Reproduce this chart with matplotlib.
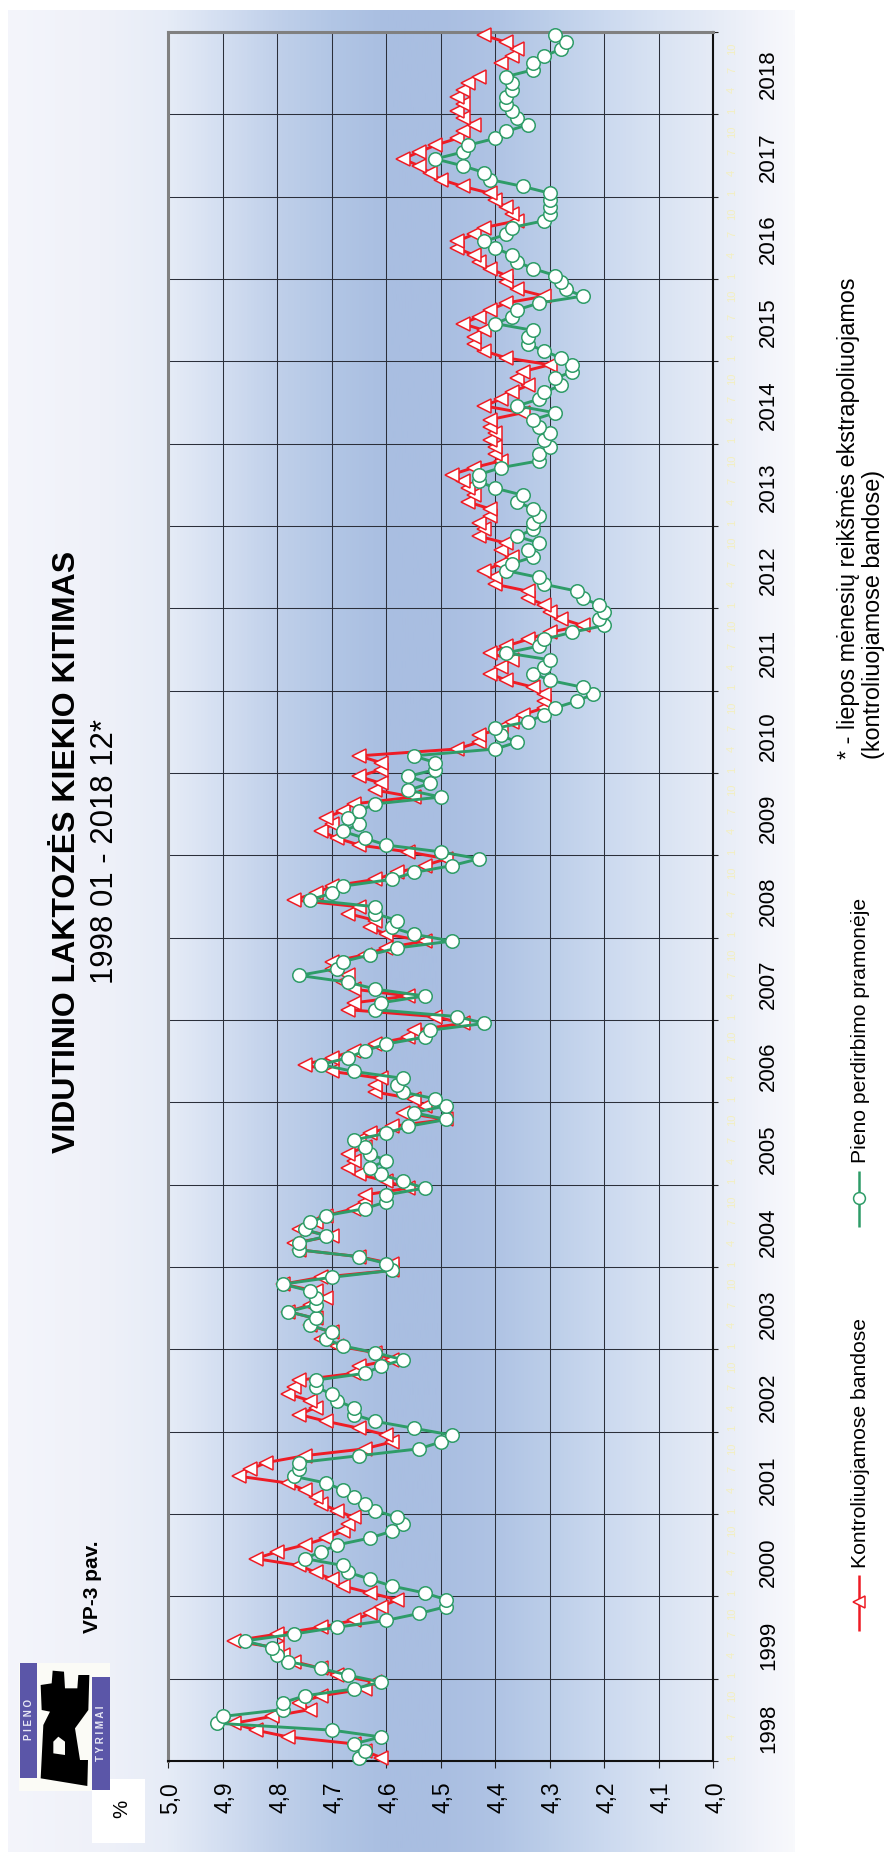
import numpy as np
import matplotlib
matplotlib.use("Agg")
import matplotlib.pyplot as plt
from matplotlib.colors import LinearSegmentedColormap
from matplotlib.lines import Line2D
from matplotlib.markers import MarkerStyle
from matplotlib.patches import Polygon, Rectangle
from matplotlib.transforms import Affine2D, blended_transform_factory

plt.rcParams['font.family'] = ['Liberation Sans', 'DejaVu Sans']

TITLE = "VIDUTINIO LAKTOZĖS KIEKIO KITIMAS"
SUBTITLE = "1998 01 - 2018 12*"
FIGURE_NO = "VP-3 pav."
UNIT = "%"
SERIES_RED = "Kontroliuojamose bandose"
SERIES_GREEN = "Pieno perdirbimo pramonėje"
NOTE_1 = "* - liepos mėnesių reikšmės ekstrapoliuojamos"
NOTE_2 = "(kontroliuojamose bandose)"

years = list(range(1998, 2019))
month_labels = {0: "1", 3: "4", 6: "7", 9: "10"}
value_ticks = [5.0, 4.9, 4.8, 4.7, 4.6, 4.5, 4.4, 4.3, 4.2, 4.1, 4.0]
value_labels = ["5,0", "4,9", "4,8", "4,7", "4,6", "4,5", "4,4", "4,3", "4,2", "4,1", "4,0"]

green = [
    4.65, 4.64, 4.66, 4.61, 4.70, 4.91, 4.90, 4.79, 4.79, 4.75, 4.66, 4.61,
    4.67, 4.72, 4.78, 4.80, 4.81, 4.86, 4.77, 4.69, 4.60, 4.54, 4.49, 4.49,
    4.53, 4.59, 4.63, 4.67, 4.68, 4.75, 4.72, 4.69, 4.63, 4.59, 4.57, 4.58,
    4.62, 4.64, 4.66, 4.68, 4.71, 4.77, 4.76, 4.76, 4.65, 4.54, 4.50, 4.48,
    4.55, 4.62, 4.66, 4.66, 4.69, 4.70, 4.73, 4.73, 4.64, 4.61, 4.57, 4.62,
    4.68, 4.71, 4.70, 4.74, 4.73, 4.78, 4.73, 4.73, 4.74, 4.79, 4.70, 4.59,
    4.60, 4.65, 4.76, 4.76, 4.71, 4.75, 4.74, 4.71, 4.64, 4.60, 4.60, 4.53,
    4.57, 4.61, 4.63, 4.60, 4.63, 4.64, 4.66, 4.60, 4.56, 4.49, 4.55, 4.49,
    4.51, 4.57, 4.58, 4.57, 4.66, 4.72, 4.67, 4.64, 4.60, 4.53, 4.52, 4.42,
    4.47, 4.62, 4.61, 4.53, 4.62, 4.67, 4.76, 4.69, 4.68, 4.63, 4.58, 4.48,
    4.55, 4.59, 4.58, 4.62, 4.62, 4.74, 4.70, 4.68, 4.59, 4.55, 4.48, 4.43,
    4.50, 4.60, 4.64, 4.68, 4.65, 4.67, 4.65, 4.62, 4.50, 4.56, 4.52, 4.56,
    4.51, 4.51, 4.55, 4.40, 4.36, 4.39, 4.40, 4.34, 4.31, 4.29, 4.25, 4.22,
    4.24, 4.30, 4.33, 4.31, 4.30, 4.38, 4.32, 4.31, 4.26, 4.20, 4.21, 4.20,
    4.21, 4.24, 4.25, 4.31, 4.32, 4.38, 4.37, 4.33, 4.34, 4.32, 4.36, 4.33,
    4.33, 4.32, 4.33, 4.36, 4.35, 4.40, 4.43, 4.43, 4.39, 4.32, 4.32, 4.30,
    4.31, 4.30, 4.32, 4.33, 4.29, 4.36, 4.32, 4.31, 4.28, 4.29, 4.26, 4.26,
    4.28, 4.31, 4.34, 4.34, 4.33, 4.40, 4.37, 4.36, 4.32, 4.24, 4.27, 4.28,
    4.29, 4.33, 4.36, 4.37, 4.40, 4.42, 4.38, 4.37, 4.31, 4.30, 4.30, 4.30,
    4.30, 4.35, 4.41, 4.42, 4.46, 4.51, 4.46, 4.45, 4.40, 4.38, 4.34, 4.36,
    4.37, 4.38, 4.38, 4.37, 4.37, 4.38, 4.33, 4.33, 4.31, 4.28, 4.27, 4.29,
]
red = [
    4.61, 4.64, 4.66, 4.78, 4.84, 4.88, 4.81, 4.74, 4.76, 4.72, 4.64, 4.62,
    4.69, 4.72, 4.77, 4.79, 4.80, 4.88, 4.80, 4.72, 4.66, 4.63, 4.61, 4.58,
    4.63, 4.68, 4.70, 4.73, 4.76, 4.84, 4.80, 4.75, 4.71, 4.68, 4.67, 4.66,
    4.69, 4.72, 4.73, 4.75, 4.78, 4.87, 4.85, 4.82, 4.75, 4.64, 4.59, 4.60,
    4.65, 4.71, 4.76, 4.73, 4.74, 4.78, 4.77, 4.76, 4.66, 4.65, 4.59, 4.62,
    4.69, 4.72, 4.70, 4.74, 4.73, 4.78, 4.74, 4.71, 4.73, 4.79, 4.72, 4.59,
    4.59, 4.65, 4.76, 4.77, 4.70, 4.76, 4.73, 4.71, 4.66, 4.64, 4.64, 4.56,
    4.60, 4.65, 4.67, 4.66, 4.67, 4.64, 4.65, 4.63, 4.59, 4.49, 4.57, 4.53,
    4.55, 4.62, 4.62, 4.61, 4.70, 4.75, 4.70, 4.66, 4.62, 4.56, 4.55, 4.46,
    4.51, 4.67, 4.66, 4.56, 4.66, 4.68, 4.67, 4.70, 4.70, 4.64, 4.60, 4.53,
    4.60, 4.63, 4.62, 4.67, 4.65, 4.77, 4.73, 4.70, 4.62, 4.58, 4.53, 4.49,
    4.56, 4.65, 4.69, 4.72, 4.70, 4.71, 4.68, 4.66, 4.55, 4.62, 4.61, 4.65,
    4.61, 4.61, 4.65, 4.47, 4.43, 4.43, 4.39, 4.37, 4.35, 4.31, 4.31, 4.31,
    4.33, 4.38, 4.41, 4.39, 4.37, 4.41, 4.38, 4.34, 4.30, 4.24, 4.28, 4.30,
    4.31, 4.34, 4.34, 4.40, 4.40, 4.42, 4.39, 4.37, 4.39, 4.38, 4.43, 4.42,
    4.43, 4.41, 4.41, 4.45, 4.44, 4.45, 4.46, 4.48, 4.44, 4.39, 4.40, 4.40,
    4.41, 4.40, 4.41, 4.41, 4.35, 4.42, 4.39, 4.37, 4.34, 4.36, 4.35, 4.30,
    4.38, 4.42, 4.44, 4.44, 4.42, 4.46, 4.43, 4.41, 4.38, 4.31, 4.36, 4.38,
    4.38, 4.41, 4.43, 4.44, 4.47, 4.47, 4.44, 4.42, 4.36, 4.37, 4.38, 4.40,
    4.41, 4.46, 4.50, 4.52, 4.54, 4.57, 4.54, 4.51, 4.47, 4.46, 4.44, 4.46,
    4.47, 4.46, 4.47, 4.46, 4.45, 4.43, float("nan"), 4.39, 4.37, 4.36, 4.38, 4.42,
]

W, H = 884, 1852
RED, GREEN = "#ee1c25", "#2e9c68"
AX_L, AX_R, AX_T, AX_B = 168.4, 713.3, 32, 1761

fig = plt.figure(figsize=(W / 100, H / 100), dpi=100, facecolor="white")

# full-page layer in pixel coordinates
page = fig.add_axes([0, 0, 1, 1], zorder=0)
page.set_xlim(0, W)
page.set_ylim(H, 0)
page.axis("off")

stops_x = [8, 100, 168, 223, 277, 332, 386, 440, 495, 550, 605, 659, 713, 760, 795]
stops_c = ["#f4f5fb", "#eff1f9", "#e6ecf7", "#d3def1", "#c0d0ea", "#b2c6e5", "#a9bee1", "#a9bee1",
           "#afc3e4", "#bccee9", "#cbd9ef", "#d9e3f3", "#e5ebf6", "#f1f3fa", "#f8f9fc"]
pos = [(x - stops_x[0]) / (stops_x[-1] - stops_x[0]) for x in stops_x]
cmap = LinearSegmentedColormap.from_list("bg", list(zip(pos, stops_c)))
page.imshow(np.linspace(0, 1, 512)[None, :], cmap=cmap, aspect="auto",
            extent=(stops_x[0], stops_x[-1], H, 10), zorder=0)
page.set_xlim(0, W)
page.set_ylim(H, 0)


def ptext(x, y, s, size, weight="normal", ha="center", color="black", ax=None, tr=None):
    """Text turned 90 degrees, anchored on its baseline."""
    (ax or page).text(x, y, s, fontsize=size, fontweight=weight, rotation=90,
                      rotation_mode="anchor", ha=ha, va="baseline", color=color,
                      transform=tr if tr is not None else page.transData, zorder=6)


ptext(75, 852, TITLE, 23, weight="bold")
ptext(113, 851, SUBTITLE, 22.4)
ptext(98, 1633, FIGURE_NO, 15, weight="bold", ha="left")

# logo
page.add_patch(Rectangle((19, 1663), 91, 128, fc="#fbfbf6", ec="none", zorder=3))
page.add_patch(Rectangle((20, 1663), 17, 115, fc="#5b56a8", ec="none", zorder=4))
page.add_patch(Rectangle((92, 1677), 18, 113, fc="#5b56a8", ec="none", zorder=4))
logo = [(122, 535), (262, 558), (264, 480), (240, 480), (225, 385), (265, 330), (268, 225), (235, 225),
        (232, 265), (195, 265), (192, 215), (158, 212), (155, 250), (122, 255), (125, 330), (150, 335), (130, 375)]
page.add_patch(Polygon([(x / 3, 1600 + y / 3) for x, y in logo], closed=True, fc="black", ec="none", zorder=4))
hole = [(160, 460), (195, 465), (195, 425), (175, 410), (160, 425)]
page.add_patch(Polygon([(x / 3, 1600 + y / 3) for x, y in hole], closed=True, fc="#fbfbf6", ec="none", zorder=5))
ptext(32, 1720, "P I E N O", 7, weight="bold", color="#e8e8f4")
ptext(104, 1733, "T Y R I M A I", 7, weight="bold", color="#e8e8f4")

# unit box
page.add_patch(Rectangle((92, 1779), 53, 64, fc="white", ec="none", zorder=3))
ptext(127, 1809, UNIT, 14.8)

# legend
def legend_item(x, y0, y1, ym, color, marker, label, label_y):
    page.add_line(Line2D([x, x], [y0, y1], color=color, lw=1.8, zorder=5, solid_capstyle="butt"))
    page.add_line(Line2D([x], [ym], color=color, marker=marker, ms=8.5, mfc="white", mec=color, mew=1.1, zorder=6))
    ptext(866, label_y, label, 15.2, ha="left")


legend_item(859, 1631, 1575, 1602, RED, "<", SERIES_RED, 1568)
legend_item(859, 1227, 1171, 1198, GREEN, "o", SERIES_GREEN, 1163)

# note
ptext(855, 759, NOTE_1, 16.8, ha="left")
ptext(880, 759, NOTE_2, 16.8, ha="left")

# chart
ax = fig.add_axes([AX_L / W, 1 - AX_B / H, (AX_R - AX_L) / W, (AX_B - AX_T) / H], zorder=2)
ax.patch.set_alpha(0)
pos_m = np.arange(len(green)) + 0.5
ax.set_xlim(5.0, 4.0)
ax.set_ylim(0, len(years) * 12)

tri = MarkerStyle("<", transform=Affine2D().scale(0.96, 1.0))
ax.plot(red, pos_m, color=RED, lw=2.1, marker=tri, ms=10.6, mfc="white", mec=RED, mew=1.1,
        zorder=4, clip_on=False, label=SERIES_RED)
ax.plot(green, pos_m, color=GREEN, lw=2.1, marker="o", ms=9.7, mfc="white", mec=GREEN, mew=1.1,
        zorder=5, clip_on=False, label=SERIES_GREEN)

ax.set_xticks(value_ticks, value_labels, rotation=90, fontsize=16.5,
              ha="right", va="center_baseline", rotation_mode="anchor")
ax.set_yticks(np.arange(len(years) + 1) * 12)
ax.tick_params(axis="x", length=5, width=0.8, color="#222222", pad=10)
ax.tick_params(axis="y", left=False, right=True, labelleft=False, length=3.6, width=0.8, color="#222222")
ax.grid(True, color="#2b2f3a", lw=0.75, zorder=1)
ax.set_axisbelow(True)
ax.spines["left"].set(color="#808080", lw=2.2)
ax.spines["top"].set(color="#808080", lw=2.2)
ax.spines["right"].set(color="#111111", lw=1.5)
ax.spines["bottom"].set(color="#111111", lw=1.5)

side = blended_transform_factory(page.transData, ax.transData)
for k, yr in enumerate(years):
    ptext(774, k * 12 + 6 - (1.2 - 1.05 * k / 20), str(yr), 16, tr=side)
    for m, lab in month_labels.items():
        ptext(735, k * 12 + m + 0.5, lab, 8, color="#f3efc0", tr=side)

fig.savefig("out.png", dpi=100, facecolor="white")
